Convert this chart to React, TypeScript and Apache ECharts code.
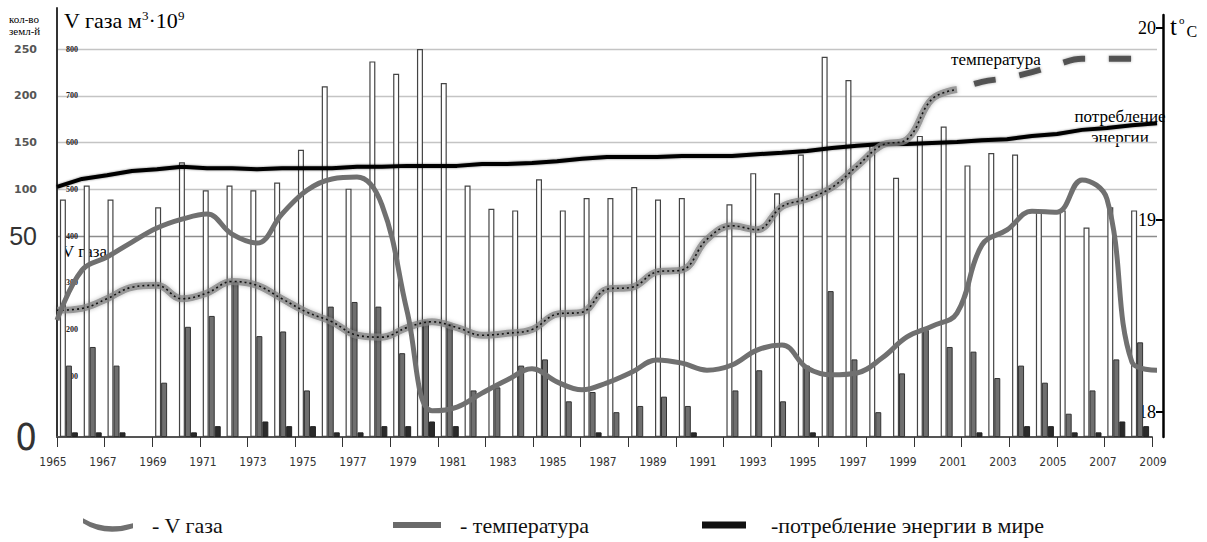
import React, { useEffect, useRef } from 'react';
import * as echarts from 'echarts';

// ---- data ----
const years = ['1965','1966','1967','1968','1969','1970','1971','1972','1973','1974','1975','1976','1977','1978','1979','1980','1981','1982','1983','1984','1985','1986','1987','1988','1989','1990','1991','1992','1993','1994','1995','1996','1997','1998','1999','2000','2001','2002','2003','2004','2005','2006','2007','2008','2009'];
const barSlots = ['1965','1966','1967','1968','1969','1970','1971','1972','1973','1974','1975','1976','1977','1978','1979','1980','1981','1982','1983','1984','1985','1986','1987','1988','1989','1990','1991','1992','1993','1994','1995','1996','1997','1998','1999','2000','2001','2002','2003','2004','2005','2006','2007','2008','2009','2010'];

// V газа, м3·10^9
const gasVolume = [220, 327, 355, 387, 417, 436, 447, 404, 385, 447, 498, 522, 526, 466, 240, 26, 34, 64, 92, 116, 88, 71, 86, 109, 135, 128, 113, 124, 156, 167, 118, 103, 107, 139, 184, 207, 235, 381, 413, 453, 451, 520, 479, 130, 113];
// температура, °C
const temperature = [18.53, 18.54, 18.59, 18.65, 18.66, 18.59, 18.62, 18.68, 18.66, 18.59, 18.52, 18.47, 18.40, 18.39, 18.44, 18.47, 18.44, 18.40, 18.41, 18.43, 18.51, 18.52, 18.64, 18.65, 18.73, 18.74, 18.90, 18.97, 18.95, 19.07, 19.11, 19.17, 19.28, 19.39, 19.42, 19.63, 19.68, 19.72, 19.74, 19.77, 19.81, 19.84, 19.84, 19.84, null];
// потребление энергии в мире (отн. ед.)
const energy = [505, 522, 530, 539, 543, 548, 545, 545, 543, 545, 545, 545, 548, 548, 550, 550, 550, 554, 554, 556, 560, 565, 569, 569, 569, 571, 571, 571, 575, 578, 582, 588, 593, 597, 597, 599, 601, 605, 607, 614, 618, 627, 631, 637, 641];
// кол-во землетрясений (три группы)
const quakesA = [153,162,153,null,148,177,159,162,159,164,185,226,160,242,234,250,228,162,147,146,166,146,154,154,161,153,154,null,150,170,157,182,245,230,189,167,194,200,175,183,182,146,146,135,148,146];
const quakesB = [46,58,46,null,35,71,78,100,65,68,30,84,87,84,54,75,73,30,32,46,50,23,29,16,20,26,20,null,30,43,23,46,94,50,16,41,69,58,55,38,46,35,15,30,50,61];
const quakesC = [3,3,3,null,null,3,7,null,10,7,7,3,3,7,7,10,7,null,null,null,null,null,3,null,null,null,3,null,null,null,null,3,null,null,null,null,null,null,3,null,7,7,3,3,10,7];

const tempTicks = [18, 19, 20];
const TEMP_DASH_FROM = 36;

const SERIF = 'Liberation Serif, Times New Roman, serif';
const NARROW = 'Liberation Sans Narrow, DejaVu Sans Condensed, sans-serif';
const SANS = 'Liberation Sans, Arial, sans-serif';

const legendText = (pad: number) => ({
  rich: { a: { fontFamily: SERIF, fontSize: 22, color: '#111', padding: [0, 0, 0, pad] } },
});

export default function App() {
  const ref = useRef<HTMLDivElement>(null);
  useEffect(() => {
    const chart = echarts.init(ref.current!, null, { renderer: 'svg' });
    const tempSolid = temperature.map((v, i) => (i <= TEMP_DASH_FROM ? v : null));
    const tempTail = temperature.map((v, i) => (i >= TEMP_DASH_FROM ? v : null));
    const option: any = {
      animation: false,
      backgroundColor: '#fff',
      textStyle: { fontFamily: SERIF },
      grid: [
        { left: 57, right: 50, top: 49, bottom: 119, outerBoundsMode: 'none' },
        { left: 57, right: 55, top: 8, bottom: 105, outerBoundsMode: 'none' },
        { left: 57, right: 50, top: 15, bottom: 105, outerBoundsMode: 'none' },
      ],
      xAxis: [
        {
          type: 'category', gridIndex: 0, data: years, boundaryGap: false,
          axisLine: { show: false }, axisTick: { show: false }, splitLine: { show: false },
          axisLabel: { interval: 1, margin: 33, fontFamily: NARROW, fontSize: 12, color: '#333', padding: [0, 8, 0, 0], hideOverlap: false },
        },
        {
          type: 'category', gridIndex: 1, data: barSlots, boundaryGap: true,
          axisLine: { show: true, lineStyle: { color: '#555', width: 2 } },
          axisTick: { show: true, length: 10, lineStyle: { color: '#333', width: 1 } },
          axisLabel: { show: false }, splitLine: { show: false },
        },
        {
          type: 'category', gridIndex: 2, data: years, boundaryGap: false, show: false,
        },
      ],
      yAxis: [
        {
          type: 'value', gridIndex: 0, position: 'left', min: 0, max: 800, interval: 100,
          axisLine: { show: false }, axisTick: { show: false },
          axisLabel: { inside: true, margin: 9, fontFamily: SERIF, fontWeight: 'bold', fontSize: 8, color: '#222' },
          splitLine: {
            show: true, showMinLine: true, showMaxLine: true,
            lineStyle: { width: 1.3, color: ['rgba(0,0,0,0)', 'rgba(0,0,0,0)', 'rgba(0,0,0,0)', 'rgba(0,0,0,0)', '#8c8c8c', '#c4c4c4', '#c4c4c4', '#c4c4c4', '#c4c4c4'] },
          },
        },
        {
          type: 'value', gridIndex: 0, position: 'left', min: -150, max: 250, interval: 50,
          axisLine: { show: false }, axisTick: { show: false }, splitLine: { show: false },
          axisLabel: {
            margin: 20,
            formatter: (v: number) => (v >= 100 ? '{s|' + v + '}' : v === 50 ? '{b|50}' : ''),
            rich: {
              s: { fontFamily: 'DejaVu Sans, sans-serif', fontWeight: 'bold', fontSize: 11, color: '#555' },
              b: { fontFamily: SANS, fontSize: 25, color: '#333' },
            },
          },
        },
        {
          type: 'value', gridIndex: 1, position: 'left', min: 0, max: 276.4, interval: 250,
          axisLine: { show: true, lineStyle: { color: '#333', width: 2 } },
          axisTick: { show: false }, splitLine: { show: false },
          axisLabel: { margin: 20, formatter: (v: number) => (v === 0 ? '0' : ''), fontFamily: NARROW, fontSize: 38, color: '#333' },
        },
        { type: 'value', gridIndex: 0, min: 0, max: 800, show: false },
        {
          type: 'value', gridIndex: 2, position: 'right', offset: 6, min: 17.87, max: 20.068,
          axisLine: { show: true, lineStyle: { color: '#000', width: 2.5 } },
          axisTick: { show: true, inside: true, length: 7, customValues: tempTicks, lineStyle: { color: '#000', width: 2 } },
          axisLabel: { inside: true, margin: 7, customValues: tempTicks, fontFamily: SERIF, fontSize: 18, color: '#000' },
          splitLine: { show: false },
        },
      ],
      legend: [
        {
          left: 78, top: 509, selectedMode: false, itemWidth: 50, itemHeight: 14,
          data: [{ name: 'V газа', icon: 'path://M0,0 Q22,13 50,5 L50,10 Q22,19 0,5 Z', itemStyle: { color: '#707070' } }],
          formatter: (n: string) => '{a|- ' + n + '}',
          textStyle: legendText(14),
        },
        {
          left: 388, top: 509, selectedMode: false, itemWidth: 48, itemHeight: 6,
          data: [{ name: 'температура', icon: 'rect', itemStyle: { color: '#6a6a6a' } }],
          formatter: (n: string) => '{a|- ' + n + '}',
          textStyle: legendText(14),
        },
        {
          left: 697, top: 509, selectedMode: false, itemWidth: 44, itemHeight: 7,
          data: [{ name: 'потребление энергии в мире', icon: 'rect', itemStyle: { color: '#111' } }],
          formatter: (n: string) => '{a|-' + n + '}',
          textStyle: legendText(20),
        },
      ],
      series: [
        {
          name: 'землетрясения (1)', type: 'bar', xAxisIndex: 1, yAxisIndex: 2, data: quakesA,
          barWidth: 6, barGap: '0%', itemStyle: { color: '#fff', borderColor: '#444', borderWidth: 1.2 },
        },
        {
          name: 'землетрясения (2)', type: 'bar', xAxisIndex: 1, yAxisIndex: 2, data: quakesB,
          barWidth: 6, barGap: '0%', itemStyle: { color: '#6f6f6f', borderColor: '#333', borderWidth: 1 },
        },
        {
          name: 'землетрясения (3)', type: 'bar', xAxisIndex: 1, yAxisIndex: 2, data: quakesC,
          barWidth: 6, barGap: '0%', itemStyle: { color: '#2a2a2a', borderColor: '#222', borderWidth: 1 },
        },
        {
          name: 'потребление энергии в мире', type: 'line', xAxisIndex: 0, yAxisIndex: 3, data: energy,
          symbol: 'none', smooth: false,
          lineStyle: { color: '#000', width: 4, shadowBlur: 2, shadowColor: 'rgba(0,0,0,0.5)' },
        },
        {
          name: 'температура', type: 'line', xAxisIndex: 2, yAxisIndex: 4, data: tempSolid,
          symbol: 'none', smooth: 0.4,
          lineStyle: { color: 'rgba(130,130,130,0.75)', width: 7, shadowBlur: 4, shadowColor: 'rgba(0,0,0,0.35)' },
        },
        {
          name: 'температура', type: 'line', xAxisIndex: 2, yAxisIndex: 4, data: tempSolid,
          symbol: 'none', smooth: 0.4,
          lineStyle: { color: '#111', width: 1.6, type: [2, 3] },
        },
        {
          name: 'температура', type: 'line', xAxisIndex: 2, yAxisIndex: 4, data: tempTail,
          symbol: 'none', smooth: 0.4,
          lineStyle: { color: 'rgba(70,70,70,0.9)', width: 6, type: [22, 24], dashOffset: 28, shadowBlur: 3, shadowColor: 'rgba(0,0,0,0.35)' },
        },
        {
          name: 'V газа', type: 'line', xAxisIndex: 0, yAxisIndex: 0, data: gasVolume,
          symbol: 'none', smooth: 0.4,
          lineStyle: { color: '#707070', width: 5 },
        },
      ],
      graphic: [
        {
          type: 'text', left: 64, top: 9,
          style: {
            text: '{m|V газа м}{sup|3}{m|·10}{sup|9}',
            rich: {
              m: { fontFamily: SERIF, fontSize: 22, fill: '#000' },
              sup: { fontFamily: SERIF, fontSize: 13, verticalAlign: 'top', fill: '#000' },
            },
          },
        },
        {
          type: 'text', left: 9, top: 13,
          style: { text: '{k|кол-во}\n{k|земл-й}', rich: { k: { fontFamily: SERIF, fontSize: 11, lineHeight: 12, fill: '#000' } } },
        },
        {
          type: 'text', left: 62, top: 243,
          style: { text: '{v|V газа}', rich: { v: { fontFamily: SERIF, fontSize: 17, fill: '#000' } } },
        },
        {
          type: 'text', left: 951, top: 51,
          style: { text: '{v|температура}', rich: { v: { fontFamily: SERIF, fontSize: 17, fill: '#000' } } },
        },
        {
          type: 'text', x: 1120, y: 106,
          style: {
            text: '{v|потребление}\n{v|энергии}', align: 'center',
            rich: { v: { fontFamily: SERIF, fontSize: 17, lineHeight: 21, fill: '#000', align: 'center' } },
          },
        },
        {
          type: 'text', left: 1170, top: 14,
          style: {
            text: '{t|t}{o|o}{c|C}', fill: '#000',
            rich: {
              t: { fontFamily: SERIF, fontSize: 25, fill: '#000' },
              o: { fontFamily: SERIF, fontSize: 11, verticalAlign: 'top', padding: [0, 2, 0, 2], fill: '#000' },
              c: { fontFamily: SERIF, fontSize: 16, verticalAlign: 'bottom', fill: '#000' },
            },
          },
        },
      ],
    };
    chart.setOption(option);
    return () => chart.dispose();
  }, []);
  return <div ref={ref} style={{ position: 'fixed', left: 0, top: 0, width: 1207, height: 542, background: '#fff' }} />;
}
